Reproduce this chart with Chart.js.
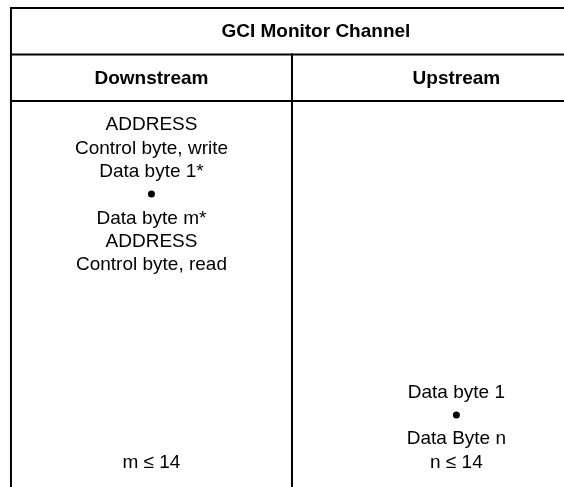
<!DOCTYPE html>
<html>
<head>
<meta charset="utf-8">
<script src="https://cdn.jsdelivr.net/npm/chart.js@4/dist/chart.umd.min.js"></script>
<style>
  html, body { margin: 0; padding: 0; background: #ffffff; }
  #wrap { width: 564px; height: 487px; position: relative; }
</style>
</head>
<body>
<div id="wrap"><canvas id="c"></canvas></div>
<script>
// ---- table content ----
const tableTitle = "GCI Monitor Channel";
const columnHeaders = ["Downstream", "Upstream"];
const downstreamLines = ["ADDRESS", "Control byte, write", "Data byte 1*", "\u2022", "Data byte m*", "ADDRESS", "Control byte, read"];
const upstreamLines = ["Data byte 1", "\u2022", "Data Byte n"];
const limitNotes = ["m \u2264 14", "n \u2264 14"];

// ---- table structure (scale units: x = column units, y = text-line units) ----
const colEdges = [0, 1, 2.17];
const rowEdges = [0, 2, 4];
const tableBottom = 22;

const lineDatasets = [];
function seg(x1, y1, x2, y2) {
  lineDatasets.push({
    type: 'line',
    data: [{x: x1, y: y1}, {x: x2, y: y2}],
    borderColor: '#000000',
    borderWidth: 2,
    borderCapStyle: 'square',
    pointRadius: 0,
    fill: false,
    clip: false
  });
}
// horizontal rules
rowEdges.forEach(y => seg(colEdges[0], y, colEdges[2], y));
// left border
seg(colEdges[0], rowEdges[0], colEdges[0], tableBottom);
// column divider (starts below title row)
seg(colEdges[1], rowEdges[1], colEdges[1], tableBottom);
// right border (off-canvas)
seg(colEdges[2], rowEdges[0], colEdges[2], tableBottom);

// text items placed through the scales
const textItems = [];
textItems.push({text: tableTitle, x: (colEdges[0] + colEdges[2]) / 2, y: (rowEdges[0] + rowEdges[1]) / 2, bold: true});
columnHeaders.forEach((h, i) => textItems.push({text: h, x: (colEdges[i] + colEdges[i + 1]) / 2, y: (rowEdges[1] + rowEdges[2]) / 2, bold: true}));
downstreamLines.forEach((t, i) => textItems.push({text: t, x: (colEdges[0] + colEdges[1]) / 2, y: 5 + i}));
upstreamLines.forEach((t, i) => textItems.push({text: t, x: (colEdges[1] + colEdges[2]) / 2, y: 16.5 + i}));
limitNotes.forEach((t, i) => textItems.push({text: t, x: (colEdges[i] + colEdges[i + 1]) / 2, y: 19.5}));

const textPlugin = {
  id: 'tableText',
  afterDatasetsDraw(chart) {
    const ctx = chart.ctx;
    const xs = chart.scales.x, ys = chart.scales.y;
    ctx.save();
    ctx.fillStyle = '#000000';
    ctx.textAlign = 'center';
    ctx.textBaseline = 'middle';
    textItems.forEach(it => {
      const px = xs.getPixelForValue(it.x), py = ys.getPixelForValue(it.y);
      if (it.text === '\u2022') {
        ctx.beginPath();
        ctx.arc(px, py, 3.5, 0, Math.PI * 2);
        ctx.fill();
        return;
      }
      ctx.font = (it.bold ? 'bold ' : '') + '19px "Liberation Sans", Arial, sans-serif';
      ctx.fillText(it.text, px, py + 1);
    });
    ctx.restore();
  }
};

new Chart(document.getElementById('c'), {
  type: 'scatter',
  data: { datasets: lineDatasets },
  options: {
    responsive: true,
    maintainAspectRatio: false,
    animation: false,
    layout: { padding: 0 },
    plugins: { legend: { display: false }, tooltip: { enabled: false } },
    scales: {
      x: { type: 'linear', display: false, min: -0.039, max: 1.968 },
      y: { type: 'linear', display: false, reverse: true, min: -0.344, max: 20.6 }
    }
  },
  plugins: [textPlugin]
});
</script>
</body>
</html>
